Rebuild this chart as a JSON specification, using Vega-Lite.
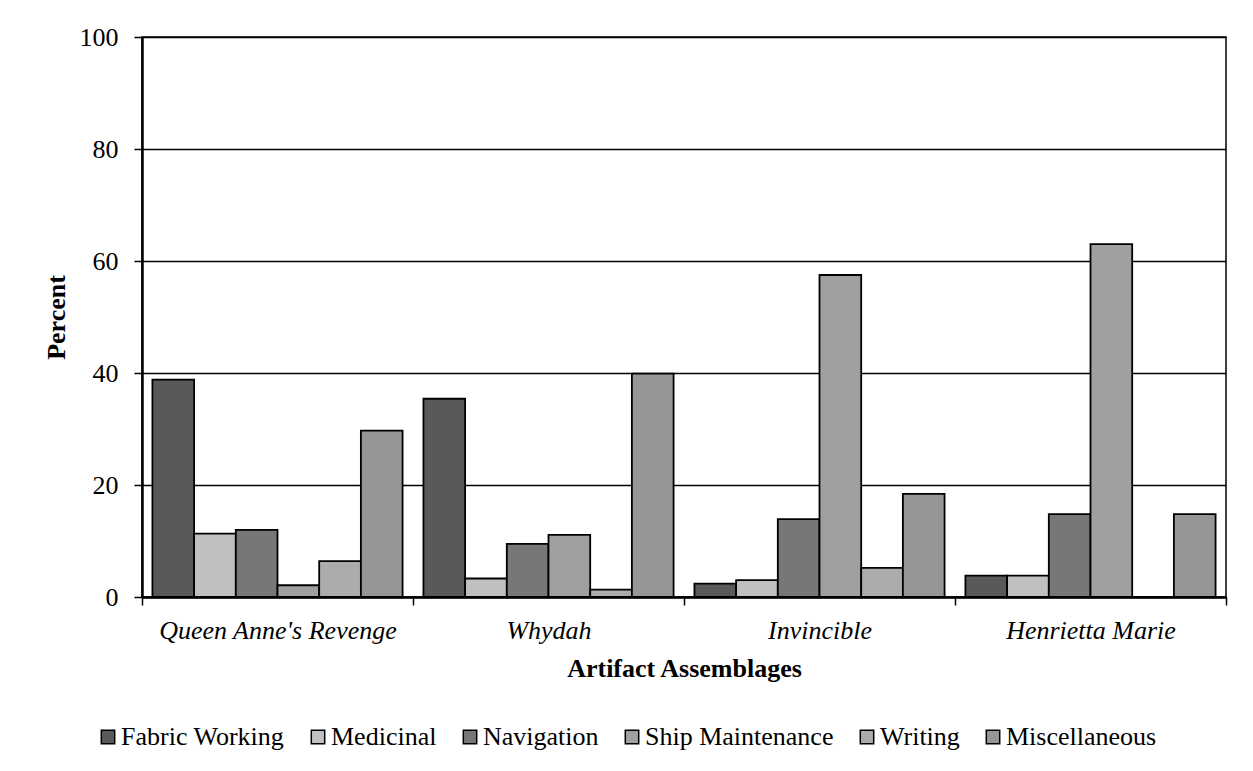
{
  "$schema": "https://vega.github.io/schema/vega-lite/v6.json",
  "width": 1084,
  "height": 560,
  "autosize": {"type": "none"},
  "padding": {"left": 142, "top": 37, "right": 27, "bottom": 174},
  "background": "white",
  "config": {
    "font": "Liberation Serif",
    "view": {"stroke": "black", "strokeWidth": 1.5},
    "axis": {"labelFont": "Liberation Serif", "titleFont": "Liberation Serif", "labelColor": "black", "titleColor": "black"}
  },
  "data": {
    "values": [
      {"ship": "Queen Anne's Revenge", "category": "Fabric Working", "percent": 38.8},
      {"ship": "Queen Anne's Revenge", "category": "Medicinal", "percent": 11.3},
      {"ship": "Queen Anne's Revenge", "category": "Navigation", "percent": 12.0},
      {"ship": "Queen Anne's Revenge", "category": "Ship Maintenance", "percent": 2.1},
      {"ship": "Queen Anne's Revenge", "category": "Writing", "percent": 6.4},
      {"ship": "Queen Anne's Revenge", "category": "Miscellaneous", "percent": 29.7},
      {"ship": "Whydah", "category": "Fabric Working", "percent": 35.4},
      {"ship": "Whydah", "category": "Medicinal", "percent": 3.3},
      {"ship": "Whydah", "category": "Navigation", "percent": 9.5},
      {"ship": "Whydah", "category": "Ship Maintenance", "percent": 11.1},
      {"ship": "Whydah", "category": "Writing", "percent": 1.3},
      {"ship": "Whydah", "category": "Miscellaneous", "percent": 39.9},
      {"ship": "Invincible", "category": "Fabric Working", "percent": 2.4},
      {"ship": "Invincible", "category": "Medicinal", "percent": 3.0},
      {"ship": "Invincible", "category": "Navigation", "percent": 13.9},
      {"ship": "Invincible", "category": "Ship Maintenance", "percent": 57.5},
      {"ship": "Invincible", "category": "Writing", "percent": 5.2},
      {"ship": "Invincible", "category": "Miscellaneous", "percent": 18.4},
      {"ship": "Henrietta Marie", "category": "Fabric Working", "percent": 3.8},
      {"ship": "Henrietta Marie", "category": "Medicinal", "percent": 3.8},
      {"ship": "Henrietta Marie", "category": "Navigation", "percent": 14.8},
      {"ship": "Henrietta Marie", "category": "Ship Maintenance", "percent": 63.0},
      {"ship": "Henrietta Marie", "category": "Writing", "percent": 0},
      {"ship": "Henrietta Marie", "category": "Miscellaneous", "percent": 14.8}
    ]
  },
  "mark": {"type": "bar", "stroke": "black", "strokeWidth": 1.8},
  "encoding": {
    "x": {
      "field": "ship",
      "type": "nominal",
      "sort": ["Queen Anne's Revenge", "Whydah", "Invincible", "Henrietta Marie"],
      "scale": {"paddingInner": 0, "paddingOuter": 0},
      "axis": {
        "title": "Artifact Assemblages",
        "titleFontSize": 26,
        "titleFontWeight": "bold",
        "titlePadding": 12,
        "labelFontSize": 26,
        "labelFontStyle": "italic",
        "labelAngle": 0,
        "labelPadding": 12,
        "labelLimit": 400,
        "tickBand": "extent",
        "tickSize": 8,
        "tickColor": "black",
        "tickWidth": 1.5,
        "domainColor": "black",
        "domainWidth": 2.5,
        "grid": false
      }
    },
    "xOffset": {
      "field": "category",
      "type": "nominal",
      "sort": ["Fabric Working", "Medicinal", "Navigation", "Ship Maintenance", "Writing", "Miscellaneous"],
      "scale": {"paddingInner": 0, "paddingOuter": 0.25}
    },
    "y": {
      "field": "percent",
      "type": "quantitative",
      "scale": {"domain": [0, 100], "nice": false},
      "axis": {
        "title": "Percent",
        "titleFontSize": 26,
        "titleFontWeight": "bold",
        "titlePadding": 10,
        "labelFontSize": 26,
        "labelPadding": 16,
        "values": [0, 20, 40, 60, 80, 100],
        "tickSize": 8,
        "tickColor": "black",
        "tickWidth": 1.5,
        "domainColor": "black",
        "domainWidth": 2.5,
        "grid": true,
        "gridColor": "black",
        "gridWidth": 1.6,
        "gridOpacity": 1
      }
    },
    "color": {
      "field": "category",
      "type": "nominal",
      "sort": ["Fabric Working", "Medicinal", "Navigation", "Ship Maintenance", "Writing", "Miscellaneous"],
      "scale": {
        "domain": ["Fabric Working", "Medicinal", "Navigation", "Ship Maintenance", "Writing", "Miscellaneous"],
        "range": ["#595959", "#c0c0c0", "#777777", "#a0a0a0", "#acacac", "#969696"]
      },
      "legend": {
        "title": null,
        "orient": "none",
        "direction": "horizontal",
        "legendX": -47,
        "legendY": 687,
        "padding": 0,
        "symbolType": "square",
        "symbolSize": 180,
        "symbolStrokeColor": "black",
        "symbolStrokeWidth": 1.5,
        "symbolOpacity": 1,
        "labelFont": "Liberation Serif",
        "labelFontSize": 26,
        "labelColor": "black",
        "labelOffset": 0,
        "labelLimit": 400,
        "columnPadding": 20
      }
    }
  }
}
